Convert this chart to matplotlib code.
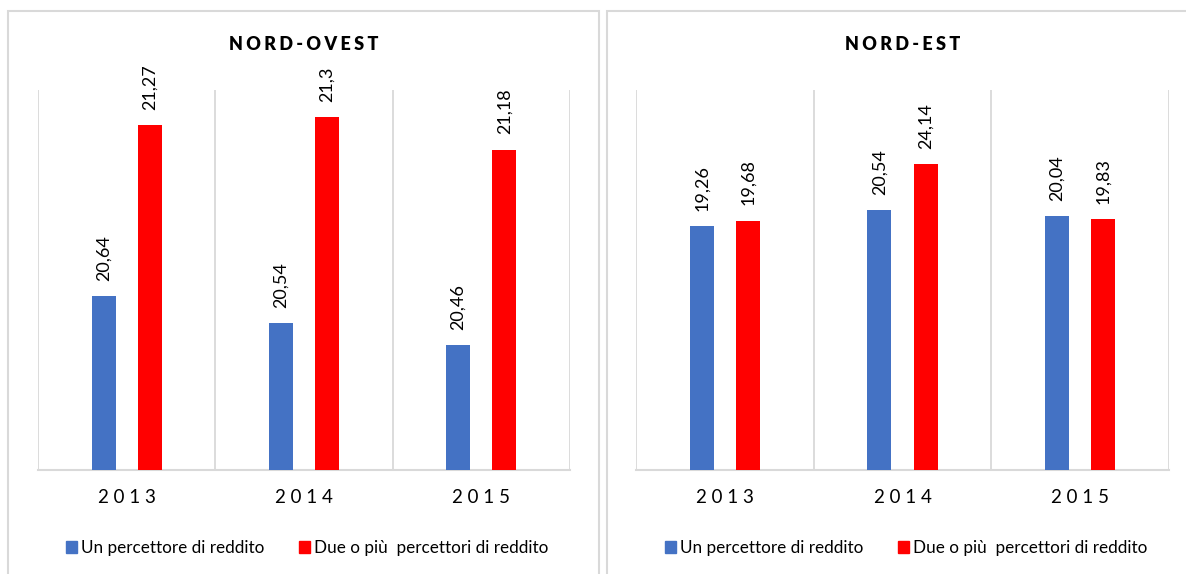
import matplotlib
matplotlib.use("Agg")
import matplotlib.pyplot as plt
from matplotlib.patches import Rectangle, Patch

plt.rcParams['font.family'] = ['Lato', 'DejaVu Sans']

years = ["2013", "2014", "2015"]
series_names = ["Un percettore di reddito", "Due o più  percettori di reddito"]
nord_ovest_uno = [20.64, 20.54, 20.46]
nord_ovest_due = [21.27, 21.30, 21.18]
nord_est_uno = [19.26, 20.54, 20.04]
nord_est_due = [19.68, 24.14, 19.83]

BLUE = "#4472C4"
RED = "#FF0000"
GRID = "#D9D9D9"
TEXT = "#000000"

W, H = 1186, 574
fig = plt.figure(figsize=(W / 100, H / 100), dpi=100)


def px_box(x0, y0, x1, y1):
    return [x0 / W, 1 - y1 / H, (x1 - x0) / W, (y1 - y0) / H]


def fmt(v):
    s = f"{v:.2f}".rstrip("0").rstrip(".")
    return s.replace(".", ",")


def spaced(s, sep="\u2009"):
    return sep.join(list(s))


# Panel frames
fig.add_artist(Rectangle((8 / W, 1 - 600 / H), (599 - 8) / W, (600 - 11) / H,
                         transform=fig.transFigure, fill=False,
                         edgecolor=GRID, lw=1.5))
fig.add_artist(Rectangle((607 / W, 1 - 600 / H), (1220 - 607) / W, (600 - 11) / H,
                         transform=fig.transFigure, fill=False,
                         edgecolor=GRID, lw=1.5))


def draw_panel(box, title, uno, due, ylim, legend_center_px):
    ax = fig.add_axes(px_box(*box))
    x = list(range(len(years)))
    off, bw = 0.13, 0.135
    b1 = ax.bar([i - off for i in x], uno, width=bw, color=BLUE, zorder=3)
    b2 = ax.bar([i + off for i in x], due, width=bw, color=RED, zorder=3)
    ax.set_ylim(*ylim)
    ax.set_xlim(-0.5, len(years) - 0.5)
    for xb in [i - 0.5 for i in range(len(years) + 1)]:
        ax.axvline(xb, color=GRID, lw=1.3, zorder=1)
    for s in ["top", "left", "right"]:
        ax.spines[s].set_visible(False)
    ax.spines["bottom"].set_color(GRID)
    ax.spines["bottom"].set_linewidth(1.5)
    ax.set_yticks([])
    ax.set_xticks(x)
    ax.set_xticklabels([spaced(y, " ") for y in years], fontsize=13.5,
                       color=TEXT)
    ax.tick_params(axis="x", length=0, pad=14)
    for bars, vals in ((b1, uno), (b2, due)):
        for rect, v in zip(bars, vals):
            ax.annotate(fmt(v), (rect.get_x() + rect.get_width() / 2, v),
                        xytext=(0, 11), textcoords="offset points",
                        rotation=90, ha="center", va="bottom",
                        fontsize=13, color=TEXT)
    cx = (box[0] + box[2]) / 2
    fig.text(cx / W, 1 - 45 / H, spaced(title, "\u2009\u200a"), ha="center",
             va="center", fontsize=13, fontweight="heavy", color=TEXT)
    handles = [Patch(color=BLUE), Patch(color=RED)]
    fig.legend(handles, series_names, loc="center",
               bbox_to_anchor=(legend_center_px / W, 1 - 548 / H),
               ncol=2, frameon=False, fontsize=12.3, handlelength=0.65,
               handleheight=0.65, handletextpad=0.25, columnspacing=2.0)


draw_panel((38, 90, 570, 470), "NORD-OVEST", nord_ovest_uno, nord_ovest_due,
           (20, 21.4), 307)
draw_panel((636, 90, 1169, 470), "NORD-EST", nord_est_uno, nord_est_due,
           (0, 30), 906)

fig.savefig("out.png", dpi=100, facecolor="white")
